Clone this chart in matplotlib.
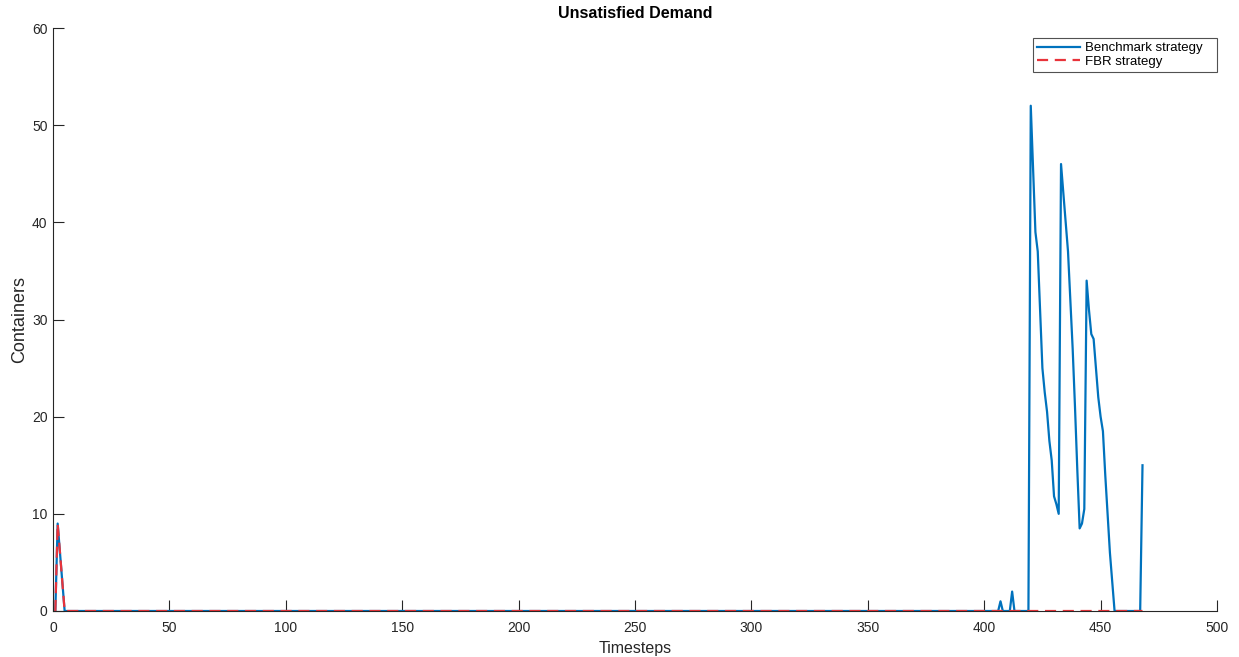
import numpy as np
import matplotlib
matplotlib.use("Agg")
import matplotlib.pyplot as plt

plt.rcParams["font.family"] = ["Liberation Sans", "DejaVu Sans"]

# timesteps 1..468, zero everywhere except the listed points
N_STEPS = 468
bench_steps = [2, 3, 4, 407, 412, 420, 421, 422, 423, 424, 425, 426, 427, 428, 429,
               430, 431, 432, 433, 434, 435, 436, 437, 438, 439, 440, 441, 442, 443,
               444, 445, 446, 447, 448, 449, 450, 451, 452, 453, 454, 455, 468]
bench_vals = [9, 6, 3, 1, 2, 52, 45.5, 39, 37, 31, 25, 22.5, 20.5, 17.5, 15.5,
              11.8, 11, 10, 46, 43, 40, 37, 32, 27, 21, 14.5, 8.5, 9, 10.5,
              34, 31, 28.5, 28, 25, 22, 20, 18.5, 14, 10, 6, 3, 15]
fbr_steps = [2, 3, 4]
fbr_vals = [9, 6, 3]

BLUE = "#0072BD"
RED = "#e8333a"
AXC = "#262626"

t = np.arange(1, N_STEPS + 1)
bench = np.zeros(N_STEPS)
bench[np.array(bench_steps) - 1] = bench_vals
fbr = np.zeros(N_STEPS)
fbr[np.array(fbr_steps) - 1] = fbr_vals

fig = plt.figure(figsize=(12.39, 6.57), dpi=100)
ax = fig.add_axes([53 / 1239, 46 / 657, 1164 / 1239, 583 / 657])

ax.plot(t, bench, color=BLUE, lw=1.6, label="Benchmark strategy")
ax.plot(t, fbr, color=RED, lw=1.6, ls=(0, (5, 3)), label="FBR strategy")

ax.set_xlim(0, 500)
ax.set_ylim(0, 60)
ax.set_xticks(np.arange(0, 501, 50))
ax.set_yticks(np.arange(0, 61, 10))
for side in ("top", "right"):
    ax.spines[side].set_visible(False)
for side in ("left", "bottom"):
    ax.spines[side].set_color(AXC)
    ax.spines[side].set_linewidth(0.8)
ax.tick_params(direction="in", length=8, width=0.8, colors=AXC, labelsize=10)
ax.tick_params(axis="x", pad=7.5)
ax.tick_params(axis="y", pad=4)

ax.set_xlabel("Timesteps", fontsize=11.5, color=AXC, labelpad=4)
ax.set_ylabel("Containers", fontsize=13, color=AXC, labelpad=3)
ax.set_title("Unsatisfied Demand", fontsize=11.5, fontweight="bold", pad=7)

leg = ax.legend(loc="upper left", bbox_to_anchor=(0.8419, 0.90, 0.1581, 0.0828),
                mode="expand", fontsize=9.5, frameon=True, fancybox=False,
                handlelength=3.25, borderpad=0.3, labelspacing=0.1,
                handletextpad=0.4, borderaxespad=0)
leg.get_frame().set_edgecolor(AXC)
leg.get_frame().set_linewidth(0.8)

fig.savefig("out.png", dpi=100)
